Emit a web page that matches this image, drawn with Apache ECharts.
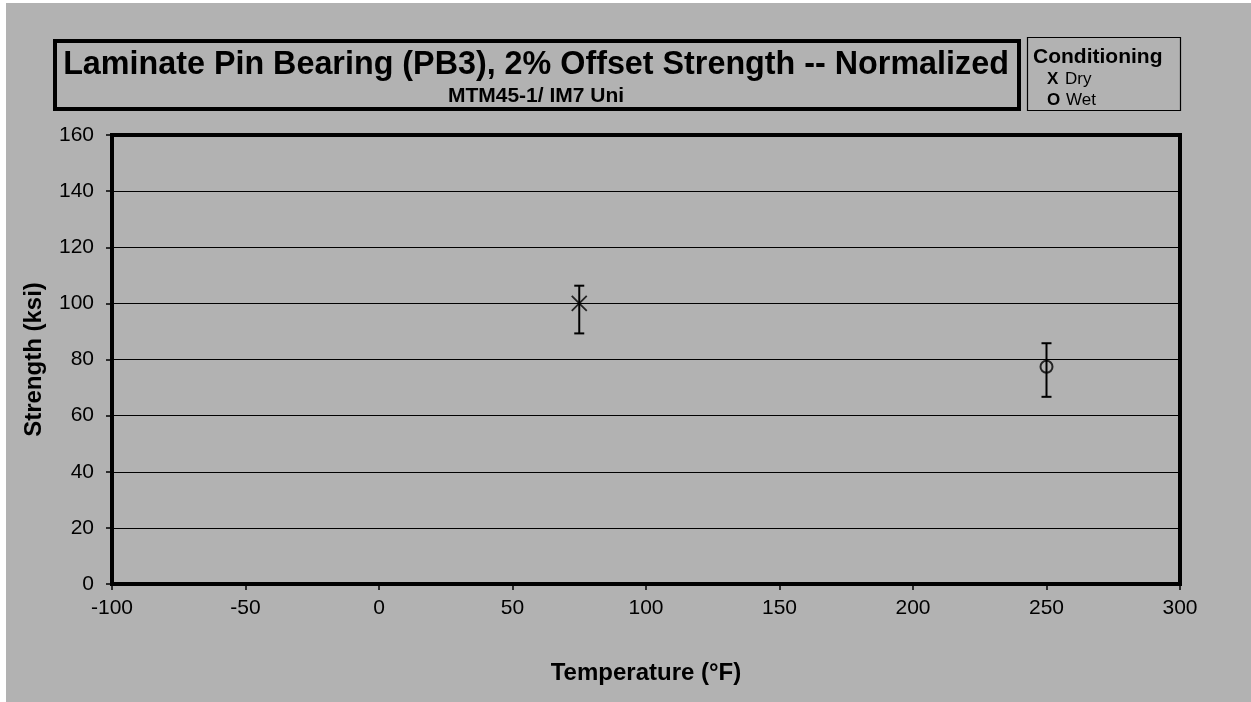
<!DOCTYPE html>
<html>
<head>
<meta charset="utf-8">
<script src="https://cdn.jsdelivr.net/npm/echarts@6/dist/echarts.min.js"></script>
<style>
html,body{margin:0;padding:0;background:#ffffff;}
#chart{width:1251px;height:702px;}
</style>
</head>
<body>
<div id="chart"></div>
<script>
// ---- data ----
const seriesNames = ['Dry', 'Wet'];
const temperatures = [75, 250];          // °F
const meanStrength = [100.0, 77.4];      // ksi
const lowStrength  = [89.3, 66.7];       // ksi (error bar bottom)
const highStrength = [106.3, 85.8];      // ksi (error bar top)
const xTicks = { min: -100, max: 300, interval: 50 };
const yTicks = { min: 0, max: 160, interval: 20 };
const titleText = 'Laminate Pin Bearing (PB3), 2% Offset Strength -- Normalized';
const subtitleText = 'MTM45-1/ IM7 Uni';
const legendTitle = 'Conditioning';
const legendSymbols = ['X', 'O'];

const FONT = '"Liberation Sans", Arial, Helvetica, sans-serif';
const chart = echarts.init(document.getElementById('chart'), null, {renderer: 'canvas'});

const errData = temperatures.map((t, i) => [t, lowStrength[i], highStrength[i]]);

const option = {
  backgroundColor: 'transparent',
  animation: false,
  textStyle: { fontFamily: FONT, color: '#000' },
  grid: {
    left: 112, right: 71, top: 135, bottom: 118,
    show: true, borderColor: '#000', borderWidth: 4, backgroundColor: 'transparent'
  },
  xAxis: {
    type: 'value', min: xTicks.min, max: xTicks.max, interval: xTicks.interval,
    name: 'Temperature (°F)', nameLocation: 'middle', nameGap: 77,
    nameTextStyle: { fontFamily: FONT, fontWeight: 'bold', fontSize: 24, color: '#000' },
    axisLine: { show: true, onZero: false, lineStyle: { color: '#000', width: 4 } },
    axisTick: { show: true, inside: false, length: 6, lineStyle: { color: '#000', width: 1.5 } },
    axisLabel: { fontFamily: FONT, fontSize: 21, color: '#000', margin: 14 },
    splitLine: { show: false }
  },
  yAxis: {
    type: 'value', min: yTicks.min, max: yTicks.max, interval: yTicks.interval,
    name: 'Strength (ksi)', nameLocation: 'middle', nameGap: 66,
    nameTextStyle: { fontFamily: FONT, fontWeight: 'bold', fontSize: 24, color: '#000' },
    axisLine: { show: true, onZero: false, lineStyle: { color: '#000', width: 4 } },
    axisTick: { show: true, inside: false, length: 6, lineStyle: { color: '#000', width: 1.5 } },
    axisLabel: { fontFamily: FONT, fontSize: 21, color: '#000', margin: 18 },
    splitLine: { show: true, lineStyle: { color: '#000', width: 1 } }
  },
  graphic: [
    { type: 'rect', z: -10, silent: true, shape: { x: 6, y: 3, width: 1245, height: 699 }, style: { fill: '#b2b2b2' } },
    { type: 'rect', z: 10, shape: { x: 55, y: 41, width: 964, height: 68 }, style: { fill: 'transparent', stroke: '#000', lineWidth: 4 } },
    { type: 'text', z: 11, x: 536, y: 65, style: { text: titleText, font: 'bold 32.3px ' + FONT, fill: '#000', textAlign: 'center', textVerticalAlign: 'middle' } },
    { type: 'text', z: 11, x: 536, y: 96, style: { text: subtitleText, font: 'bold 21px ' + FONT, fill: '#000', textAlign: 'center', textVerticalAlign: 'middle' } },
    { type: 'rect', z: 10, shape: { x: 1027.5, y: 37.5, width: 153, height: 73 }, style: { fill: 'transparent', stroke: '#000', lineWidth: 1.2 } },
    { type: 'text', z: 11, x: 1033, y: 57, style: { text: legendTitle, font: 'bold 21px ' + FONT, fill: '#000', textAlign: 'left', textVerticalAlign: 'middle' } },
    { type: 'text', z: 11, x: 1047, y: 79, style: { text: legendSymbols[0], font: 'bold 17px ' + FONT, fill: '#000', textAlign: 'left', textVerticalAlign: 'middle' } },
    { type: 'text', z: 11, x: 1065, y: 79, style: { text: seriesNames[0], font: '17px ' + FONT, fill: '#000', textAlign: 'left', textVerticalAlign: 'middle' } },
    { type: 'text', z: 11, x: 1047, y: 100, style: { text: legendSymbols[1], font: 'bold 17px ' + FONT, fill: '#000', textAlign: 'left', textVerticalAlign: 'middle' } },
    { type: 'text', z: 11, x: 1066, y: 100, style: { text: seriesNames[1], font: '17px ' + FONT, fill: '#000', textAlign: 'left', textVerticalAlign: 'middle' } }
  ],
  series: [
    {
      type: 'custom',
      name: 'error',
      z: 3,
      data: errData,
      renderItem: function (params, api) {
        const x = api.value(0);
        const lo = api.coord([x, api.value(1)]);
        const hi = api.coord([x, api.value(2)]);
        const hw = 5;
        const st = { stroke: '#000', lineWidth: 2, fill: 'none' };
        return {
          type: 'group',
          children: [
            { type: 'line', shape: { x1: lo[0], y1: lo[1], x2: hi[0], y2: hi[1] }, style: st },
            { type: 'line', shape: { x1: lo[0] - hw, y1: lo[1], x2: lo[0] + hw, y2: lo[1] }, style: st },
            { type: 'line', shape: { x1: hi[0] - hw, y1: hi[1], x2: hi[0] + hw, y2: hi[1] }, style: st }
          ]
        };
      }
    },
    {
      type: 'scatter',
      name: seriesNames[0],
      z: 4,
      symbol: 'path://M0,0L10,10M10,0L0,10',
      symbolSize: 15,
      itemStyle: { color: 'transparent', borderColor: '#000', borderWidth: 1.8 },
      data: [[temperatures[0], meanStrength[0]]]
    },
    {
      type: 'scatter',
      name: seriesNames[1],
      z: 4,
      symbol: 'circle',
      symbolSize: 12,
      itemStyle: { color: 'transparent', borderColor: '#000', borderWidth: 2 },
      data: [[temperatures[1], meanStrength[1]]]
    }
  ]
};
chart.setOption(option);
</script>
</body>
</html>
